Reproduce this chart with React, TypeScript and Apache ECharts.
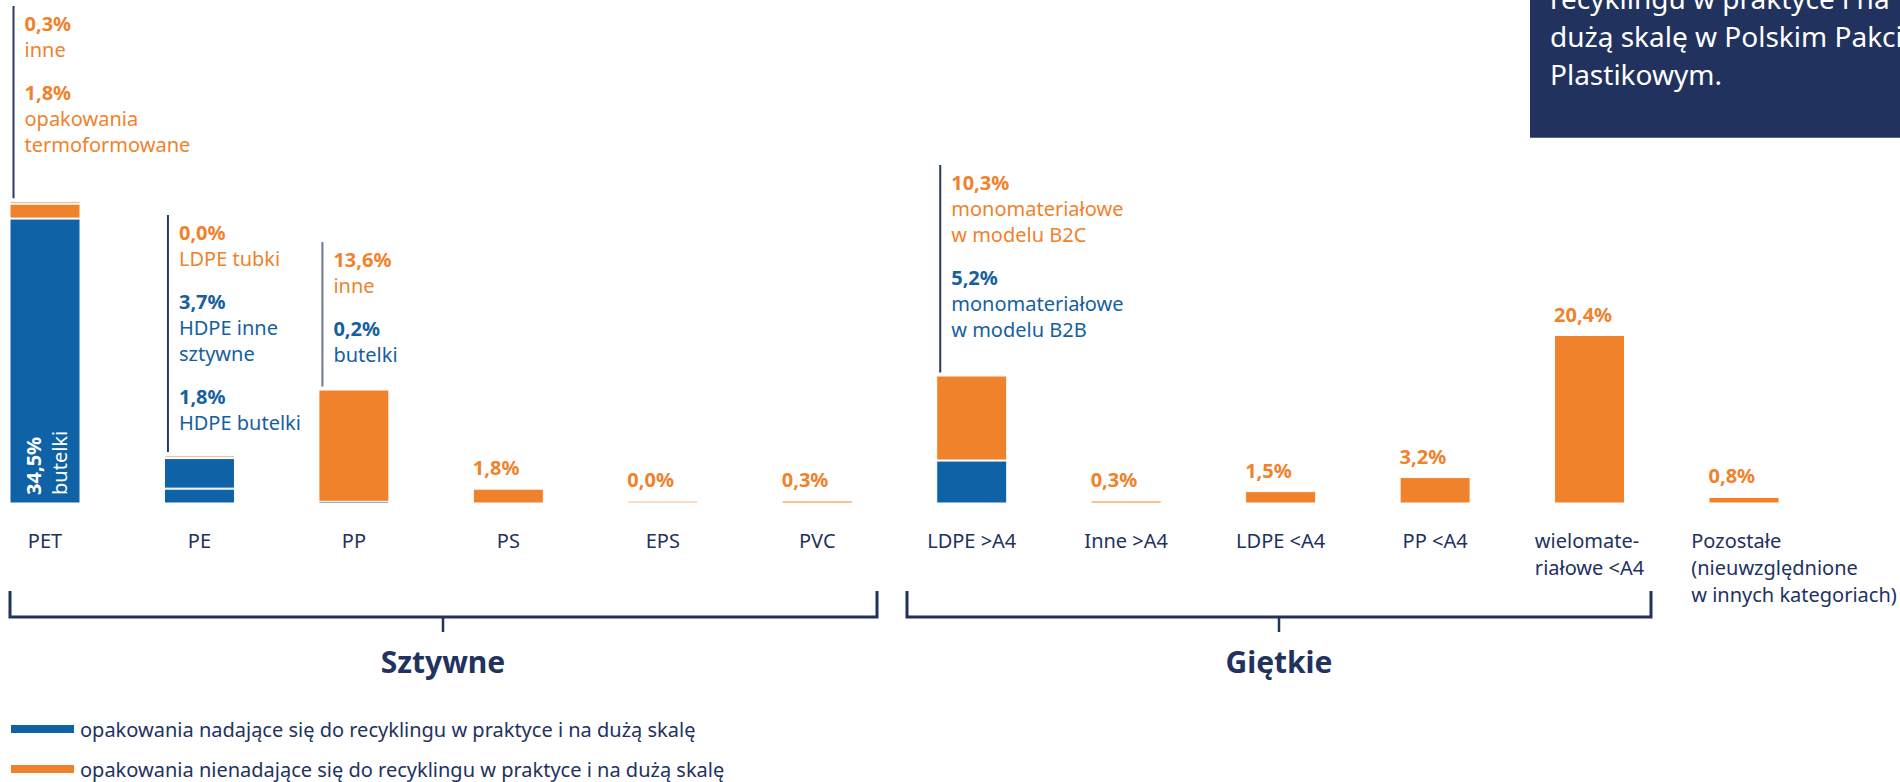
import React, { useEffect, useRef } from 'react';
import * as echarts from 'echarts';

// ---------- data ----------
const categories = [
  'PET', 'PE', 'PP', 'PS', 'EPS', 'PVC',
  'LDPE >A4', 'Inne >A4', 'LDPE <A4', 'PP <A4',
  'wielomate-\nriałowe <A4',
  'Pozostałe\n(nieuwzględnione\nw innych kategoriach)',
];
// recyclable in practice and at scale (blue), lower segment
const recyclableBase = [34.5, 1.8, 0.2, null, null, null, 5.2, null, null, null, null, null];
// recyclable, upper segment (PE: HDPE inne sztywne)
const recyclableUpper = [null, 3.7, null, null, null, null, null, null, null, null, null, null];
// not recyclable (orange), main segment
const nonRecyclable = [1.8, 0.0, 13.6, 1.8, 0.0, 0.3, 10.3, 0.3, 1.5, 3.2, 20.4, 0.8];
// not recyclable, top segment (PET: inne)
const nonRecyclableTop = [0.3, null, null, null, null, null, null, null, null, null, null, null];

const valueLabelCats = [3, 4, 5, 7, 8, 9, 10, 11];
const petBarCaption = 'butelki';

const legendNames = [
  'opakowania nadające się do recyklingu w praktyce i na dużą skalę',
  'opakowania nienadające się do recyklingu w praktyce i na dużą skalę',
];

const groupNames = ['Sztywne', 'Giętkie'];
const boxLines = ['recyklingu w praktyce i na', 'dużą skalę w Polskim Pakcie', 'Plastikowym.'];

const annotations = [
  { cat: 0, items: [
    { value: nonRecyclableTop[0], kind: 'non', text: ['inne'] },
    { value: nonRecyclable[0], kind: 'non', text: ['opakowania', 'termoformowane'] },
  ] },
  { cat: 1, items: [
    { value: nonRecyclable[1], kind: 'non', text: ['LDPE tubki'] },
    { value: recyclableUpper[1], kind: 'rec', text: ['HDPE inne', 'sztywne'] },
    { value: recyclableBase[1], kind: 'rec', text: ['HDPE butelki'] },
  ] },
  { cat: 2, items: [
    { value: nonRecyclable[2], kind: 'non', text: ['inne'] },
    { value: recyclableBase[2], kind: 'rec', text: ['butelki'] },
  ] },
  { cat: 6, items: [
    { value: nonRecyclable[6], kind: 'non', text: ['monomateriałowe', 'w modelu B2C'] },
    { value: recyclableBase[6], kind: 'rec', text: ['monomateriałowe', 'w modelu B2B'] },
  ] },
];

// ---------- styles ----------
const BLUE = '#1062a6';
const ORANGE = '#f0822c';
const ORANGE_LIGHT = '#f5bd90';
const NAVY = '#22325e';
const BLUE_TEXT = '#165fa0';
const FONT = '"Noto Sans", sans-serif';

const annotationTops = [6, 215, 242, 165];
const annotationLineColors = ['#2a3866', '#2a3866', '#6e7798', '#2a3866'];

const fmt = (v: number) => v.toFixed(1).replace('.', ',') + '%';

export default function App() {
  const ref = useRef<HTMLDivElement>(null);

  useEffect(() => {
    if (!ref.current) return;
    const chart = echarts.init(ref.current, null, { renderer: 'svg', width: 1900, height: 782 });

    const baseItemStyle = { borderColor: '#ffffff', borderWidth: 1 };

    const legendBase = {
      orient: 'horizontal',
      left: 9,
      padding: 0,
      icon: 'rect',
      itemWidth: 65,
      itemHeight: 10,
      selectedMode: false,
      textStyle: { fontSize: 20, color: NAVY, fontFamily: FONT, lineHeight: 22 },
    };

    const option: any = {
      animation: false,
      textStyle: { fontFamily: FONT },
      grid: { left: 45, right: 156, top: 8, bottom: 278.5, containLabel: false },
      legend: [
        { ...legendBase, top: 718, data: [legendNames[0]] },
        { ...legendBase, top: 758, data: [legendNames[1]] },
      ],
      xAxis: {
        type: 'category',
        data: categories,
        boundaryGap: false,
        axisLine: { show: false },
        axisTick: { show: false },
        splitLine: { show: false },
        axisLabel: {
          interval: 0,
          hideOverlap: false,
          margin: 23,
          fontSize: 20,
          lineHeight: 27,
          color: NAVY,
          fontFamily: FONT,
          formatter: (val: string, idx: number) => {
            const lines = val.split('\n');
            if (idx === 11) return lines.map((l) => `{sp| }{t|${l}}`).join('\n');
            if (idx === 10) return lines.map((l) => `{t|${l}}`).join('\n');
            return val;
          },
          rich: {
            t: { fontSize: 20, lineHeight: 27, color: NAVY, fontFamily: FONT, align: 'left' },
            sp: { width: 100, fontSize: 20, lineHeight: 27, align: 'left' },
          },
        },
      },
      yAxis: { type: 'value', min: 0, max: 60, show: false, splitLine: { show: false } },
      series: [
        {
          name: legendNames[0],
          type: 'bar',
          stack: 'total',
          barWidth: 71,
          barMinHeight: 3,
          clip: false,
          itemStyle: { color: BLUE, ...baseItemStyle },
          data: recyclableBase.map((v, i) =>
            i === 0 && v !== null
              ? {
                  value: v,
                  label: {
                    show: true,
                    rotate: 90,
                    position: [11, '97%'],
                    align: 'left',
                    verticalAlign: 'top',
                    formatter: `{b|${fmt(v)}}\n{n|${petBarCaption}}`,
                    rich: {
                      b: { fontWeight: 'bold', fontSize: 20, color: '#fff', lineHeight: 26, fontFamily: FONT },
                      n: { fontSize: 20, color: '#fff', lineHeight: 26, fontFamily: FONT },
                    },
                  },
                }
              : v
          ),
        },
        {
          name: legendNames[0],
          type: 'bar',
          stack: 'total',
          barWidth: 71,
          clip: false,
          itemStyle: { color: BLUE, ...baseItemStyle },
          data: recyclableUpper,
        },
        {
          name: legendNames[1],
          type: 'bar',
          stack: 'total',
          barWidth: 71,
          barMinHeight: 3,
          clip: false,
          itemStyle: { color: ORANGE, ...baseItemStyle },
          label: {
            show: false,
            position: [0, -21],
            align: 'left',
            verticalAlign: 'middle',
            fontWeight: 'bold',
            fontSize: 20,
            color: ORANGE,
            fontFamily: FONT,
            formatter: (p: any) => fmt(Number(p.value)),
          },
          data: nonRecyclable.map((v, i) => ({
            value: v,
            label: { show: valueLabelCats.includes(i) },
            itemStyle: v === 0 ? { color: ORANGE_LIGHT } : undefined,
          })),
        },
        {
          name: legendNames[1],
          type: 'bar',
          stack: 'total',
          barWidth: 71,
          clip: false,
          itemStyle: { color: ORANGE, ...baseItemStyle },
          data: nonRecyclableTop,
        },
      ],
    };

    chart.setOption(option);

    // ---------- graphic overlays ----------
    const graphics: any[] = [];

    // top-right navy box
    graphics.push({
      type: 'rect', x: 1530, y: -10, shape: { width: 380, height: 147.7 },
      style: { fill: '#22325e' }, silent: true,
    });
    boxLines.forEach((t, i) => {
      graphics.push({
        type: 'text', x: 1550, y: -2 + i * 38,
        style: { text: t, fill: '#ffffff', fontSize: 28, fontFamily: FONT, align: 'left', verticalAlign: 'middle' },
        silent: true,
      });
    });

    // group brackets
    const brackets = [
      { l: 10, r: 877, c: 443 },
      { l: 907, r: 1651, c: 1279 },
    ];
    brackets.forEach((b, i) => {
      graphics.push({
        type: 'polyline',
        shape: { points: [[b.l, 591], [b.l, 617], [b.r, 617], [b.r, 591]] },
        style: { stroke: NAVY, lineWidth: 3, fill: null },
        silent: true,
      });
      graphics.push({
        type: 'line', shape: { x1: b.c, y1: 617, x2: b.c, y2: 632 },
        style: { stroke: NAVY, lineWidth: 2.5 }, silent: true,
      });
      graphics.push({
        type: 'text', x: b.c, y: 661,
        style: {
          text: groupNames[i], fill: NAVY, fontSize: 30, fontWeight: 'bold', fontFamily: FONT,
          align: 'center', verticalAlign: 'middle',
        },
        silent: true,
      });
    });

    // annotations
    const seriesArrays = [recyclableBase, recyclableUpper, nonRecyclable, nonRecyclableTop];
    annotations.forEach((a, k) => {
      let total = 0;
      let topIsZero = false;
      seriesArrays.forEach((arr) => {
        const v = arr[a.cat];
        if (v !== null && v !== undefined) {
          total += v as number;
          topIsZero = v === 0;
        }
      });
      const [cx, cy] = chart.convertToPixel({ gridIndex: 0 }, [a.cat, total]) as number[];
      const barTop = topIsZero ? cy - 3 : cy;
      const barLeft = cx - 35.5;
      const lineX = barLeft + 4;
      const top = annotationTops[k];
      graphics.push({
        type: 'line', shape: { x1: lineX, y1: top, x2: lineX, y2: barTop - 3 },
        style: { stroke: annotationLineColors[k], lineWidth: 2 }, silent: true,
      });
      let y = top + 17;
      const tx = lineX + 11;
      a.items.forEach((it) => {
        const color = it.kind === 'rec' ? BLUE_TEXT : ORANGE;
        graphics.push({
          type: 'text', x: tx, y,
          style: {
            text: fmt(it.value as number), fill: color, fontSize: 20, fontWeight: 'bold', fontFamily: FONT,
            align: 'left', verticalAlign: 'middle',
          },
          silent: true,
        });
        y += 26;
        it.text.forEach((line) => {
          graphics.push({
            type: 'text', x: tx, y,
            style: { text: line, fill: color, fontSize: 20, fontFamily: FONT, align: 'left', verticalAlign: 'middle' },
            silent: true,
          });
          y += 26;
        });
        y += 17;
      });
    });

    chart.setOption({ graphic: graphics });

    return () => {
      chart.dispose();
    };
  }, []);

  return (
    <div
      ref={ref}
      style={{ position: 'fixed', left: 0, top: 0, width: 1900, height: 782, background: '#ffffff' }}
    />
  );
}
